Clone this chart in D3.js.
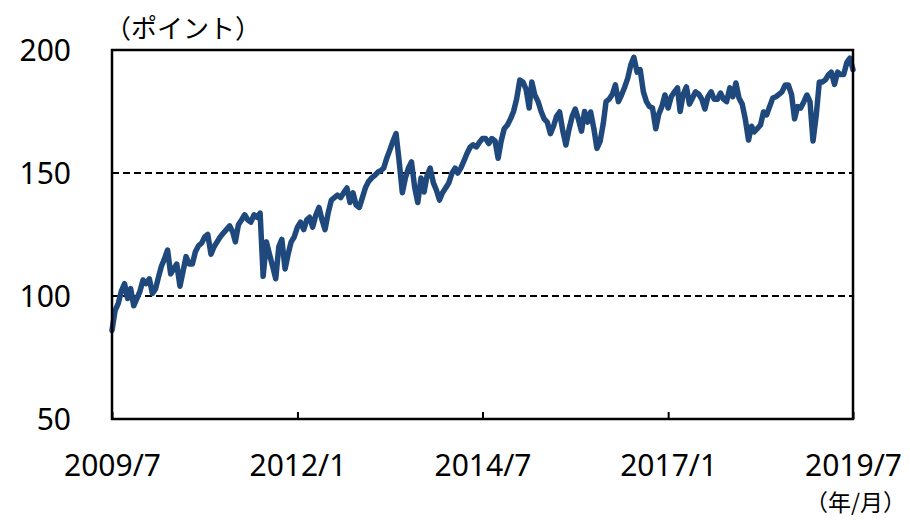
<!DOCTYPE html>
<html>
<head>
<meta charset="utf-8">
<script src="https://cdn.jsdelivr.net/npm/d3@7"></script>
<style>
    body { margin: 0; background: #fff; }
</style>
</head>
<body>
<div id="chart"></div>
<script>
// Index level at half-month steps (1st and 16th of each month)
const yr2009 = [86, 94, 97, 102, 105, 99, 103, 96, 99, 102, 106.5, 105];
const yr2010 = [107, 101, 103, 108, 112, 115, 118.7, 109, 111, 113, 104, 110, 116, 113, 113, 118, 120.5, 121.5, 124, 125, 117, 120, 122, 124];
const yr2011 = [125.6, 127, 128.5, 126, 122, 129, 131, 133, 131, 130, 133, 132, 133.7, 108, 122, 117, 112, 107, 120, 123, 111, 117, 122, 124];
const yr2012 = [128, 130, 127, 131, 132, 128, 133, 136, 131, 127, 134, 139, 140, 141, 140, 142, 143.9, 138, 141.9, 137, 136, 140, 144, 146.5];
const yr2013 = [148, 149, 150.4, 151, 152, 156, 159.5, 163, 166, 155, 142, 148, 152, 154.5, 144, 138, 148, 142.3, 149, 152, 146, 143, 139, 142];
const yr2014 = [144, 146, 150, 152, 150, 152, 155, 158, 160.5, 161.5, 160.6, 162.5, 164, 164, 162, 164, 163, 156, 163, 168, 169.5, 172, 175, 180];
const yr2015 = [187.8, 187, 184, 176.4, 187, 181.7, 179, 175, 172, 170.7, 166, 169, 173, 174.8, 167, 161.4, 168, 173, 176, 172, 167, 175, 170.7, 174.8];
const yr2016 = [168, 160, 163, 170, 179, 180, 182, 185.8, 179, 181.7, 185, 188.6, 194, 197, 191, 192, 183, 179, 177, 176.4, 168, 174, 177, 181.7];
const yr2017 = [176.4, 181, 183, 184.6, 175, 182, 185, 178, 180.5, 183, 182, 180, 176, 181, 183, 180, 180, 182.5, 180, 179, 184.6, 181, 186.6, 180.5];
const yr2018 = [178, 172, 163.4, 169, 166.7, 168, 169.5, 174.8, 173.6, 177, 180.5, 181, 182, 183, 185.8, 185.8, 182, 172, 177, 176.4, 179, 181.7, 179, 163];
const yr2019 = [173.6, 187, 187, 188, 189.8, 191, 186, 191, 190, 190, 195, 196.7, 192];

const years = [
    { year: 2009, startMonth: 6, values: yr2009 },
    { year: 2010, startMonth: 0, values: yr2010 },
    { year: 2011, startMonth: 0, values: yr2011 },
    { year: 2012, startMonth: 0, values: yr2012 },
    { year: 2013, startMonth: 0, values: yr2013 },
    { year: 2014, startMonth: 0, values: yr2014 },
    { year: 2015, startMonth: 0, values: yr2015 },
    { year: 2016, startMonth: 0, values: yr2016 },
    { year: 2017, startMonth: 0, values: yr2017 },
    { year: 2018, startMonth: 0, values: yr2018 },
    { year: 2019, startMonth: 0, values: yr2019 }
];

const xTicks = ['2009/7', '2012/1', '2014/7', '2017/1', '2019/7'];
const yTicks = [50, 100, 150, 200];
const gridValues = [100, 150];

const yLabel = '（ポイント）';
const xLabel = '（年/月）';

function renderChart(containerId) {
    // ---- setup ----
    const margin = { top: 50, right: 57, bottom: 101, left: 112 };
    const totalW = 910, totalH = 520;
    const width = totalW - margin.left - margin.right;
    const height = totalH - margin.top - margin.bottom;

    const root = d3.select(`#${containerId}`)
        .append('svg')
        .attr('width', totalW)
        .attr('height', totalH);

    const svg = root.append('g')
        .attr('transform', `translate(${margin.left},${margin.top})`);

    // ---- data ----
    const parse = d3.timeParse('%Y/%m');
    const series = [];
    years.forEach(y => {
        y.values.forEach((v, k) => {
            const date = new Date(y.year, y.startMonth + Math.floor(k / 2), k % 2 ? 16 : 1);
            series.push({ date, value: v });
        });
    });

    // ---- scales ----
    const x = d3.scaleTime()
        .domain([parse(xTicks[0]), parse(xTicks[xTicks.length - 1])])
        .range([0, width]);

    const y = d3.scaleLinear()
        .domain([50, 200])
        .range([height, 0]);

    // ---- gridlines ----
    svg.selectAll('.grid')
        .data(gridValues)
        .enter()
        .append('line')
        .attr('x1', 0)
        .attr('x2', width)
        .attr('y1', d => y(d))
        .attr('y2', d => y(d))
        .attr('stroke', '#000')
        .attr('stroke-width', 2)
        .attr('stroke-dasharray', '7,4');

    // ---- line ----
    const line = d3.line()
        .x(d => x(d.date))
        .y(d => y(d.value));

    svg.append('path')
        .datum(series)
        .attr('d', line)
        .attr('fill', 'none')
        .attr('stroke', '#1f497d')
        .attr('stroke-width', 5.5)
        .attr('stroke-linejoin', 'round')
        .attr('stroke-linecap', 'round');

    // ---- frame ----
    svg.append('rect')
        .attr('width', width)
        .attr('height', height)
        .attr('fill', 'none')
        .attr('stroke', '#000')
        .attr('stroke-width', 2.5);

    // ---- axes ----
    const xAxis = svg.append('g')
        .attr('transform', `translate(0,${height})`)
        .call(d3.axisBottom(x)
            .tickValues(xTicks.map(parse))
            .tickSize(-7)
            .tickPadding(36)
            .tickFormat(d3.timeFormat('%Y/%-m')));

    xAxis.select('.domain').remove();
    xAxis.selectAll('.tick line')
        .attr('stroke', '#000')
        .attr('stroke-width', 2);
    xAxis.selectAll('.tick text')
        .attr('fill', '#000')
        .style('font-family', '"Noto Sans", sans-serif')
        .style('font-size', '30px');

    const yAxis = svg.append('g')
        .call(d3.axisLeft(y)
            .tickValues(yTicks)
            .tickSize(0)
            .tickPadding(41));

    yAxis.select('.domain').remove();
    yAxis.selectAll('.tick text')
        .attr('fill', '#000')
        .attr('dy', '0.36em')
        .style('font-family', '"Noto Sans", sans-serif')
        .style('font-size', '30px');

    // ---- unit labels ----
    root.append('text')
        .attr('x', 105)
        .attr('y', 38)
        .style('font-family', '"Noto Sans CJK JP", sans-serif')
        .style('font-size', '26px')
        .text(yLabel);

    root.append('text')
        .attr('x', 906)
        .attr('y', 511)
        .attr('text-anchor', 'end')
        .style('font-family', '"Noto Sans CJK JP", sans-serif')
        .style('font-size', '23px')
        .text(xLabel);
}

renderChart('chart');
</script>
</body>
</html>
